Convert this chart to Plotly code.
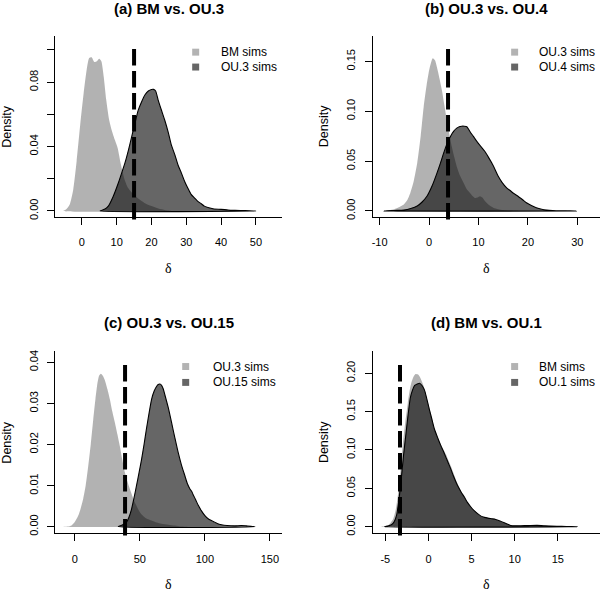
import plotly.graph_objects as go

W, H = 600, 593

# ---------------- data ----------------
titles = ["(a) BM vs. OU.3", "(b) OU.3 vs. OU.4", "(c) OU.3 vs. OU.15", "(d) BM vs. OU.1"]
light_names = ["BM sims", "OU.3 sims", "OU.3 sims", "BM sims"]
dark_names = ["OU.3 sims", "OU.4 sims", "OU.15 sims", "OU.1 sims"]
observed = [15.0, 3.84, 38.6, -3.3]

a_light_x = [-5.3, -4.5, -3.5, -2.5, -1.5, -0.5, 0.5, 1.4, 2.1, 2.8, 3.6, 4.3, 5.0, 5.6, 6.3, 7.0, 7.8, 8.6, 9.5,
             10.3, 11.2, 12.2, 13.2, 14.5, 16, 18, 20, 22, 24, 26]
a_light_y = [0, 0.001, 0.004, 0.013, 0.031, 0.053, 0.073, 0.088, 0.095, 0.0955, 0.0925, 0.093, 0.0945, 0.093, 0.083,
             0.069, 0.057, 0.050, 0.044, 0.039, 0.029, 0.020, 0.0145, 0.011, 0.008, 0.005, 0.003, 0.0015, 0.0005, 0]
a_dark_x = [5.2, 6.5, 7.6, 9, 10.5, 11.5, 12.4, 13.4, 14.3, 15.3, 16.2, 17.2, 18.1, 19.1, 20, 20.6, 21.2, 21.9, 22.8,
            23.8, 24.8, 25.7, 26.7, 27.6, 28.6, 29.5, 30.5, 31.4, 32.4, 33.3, 34.3, 35.2, 36.5, 38, 40, 42, 44, 47, 50]
a_dark_y = [0, 0.001, 0.003, 0.009, 0.0175, 0.024, 0.030, 0.038, 0.046, 0.055, 0.0626, 0.068, 0.072, 0.0745, 0.0754,
            0.0755, 0.0745, 0.069, 0.063, 0.0565, 0.049, 0.041, 0.035, 0.0287, 0.0235, 0.0185, 0.014, 0.0103, 0.008,
            0.006, 0.0045, 0.003, 0.002, 0.0012, 0.001, 0.0006, 0.0004, 0.0002, 0]

b_light_x = [-9.1, -7.1, -6, -5.1, -4.4, -3.8, -3.1, -2.4, -1.7, -1.1, -0.5, 0.1, 0.74, 1.2, 1.6, 2.1, 2.6, 3.1, 3.6,
             4.1, 4.6, 5.1, 5.6, 6.3, 7, 7.6, 8.3, 8.8, 9.3, 9.8, 10.3, 10.8, 11.3, 12, 13, 14, 15, 16.5, 18]
b_light_y = [0, 0.0017, 0.004, 0.0066, 0.011, 0.018, 0.030, 0.048, 0.075, 0.104, 0.126, 0.143, 0.153, 0.151, 0.144,
             0.133, 0.121, 0.106, 0.091, 0.077, 0.0646, 0.054, 0.0447, 0.035, 0.028, 0.022, 0.018, 0.015, 0.013,
             0.0135, 0.0148, 0.0135, 0.010, 0.0065, 0.0033, 0.0018, 0.001, 0.0004, 0]
b_dark_x = [-9.1, -7, -5.1, -3.7, -2.4, -1.4, -0.4, 0.6, 1.6, 2.3, 2.95, 3.6, 4.3, 5, 5.6, 6.1, 6.6, 7.1, 7.65, 8.3,
            9, 9.7, 10.5, 11.3, 12, 12.7, 13.4, 14, 14.8, 15.7, 16.4, 17, 17.7, 18.4, 19, 19.7, 20.7, 21.7, 22.8,
            23.8, 25, 26.4, 28, 29.8]
b_dark_y = [0, 0.0005, 0.001, 0.0025, 0.005, 0.009, 0.015, 0.025, 0.038, 0.048, 0.058, 0.067, 0.0745, 0.080, 0.083,
            0.0845, 0.085, 0.085, 0.0845, 0.0795, 0.0745, 0.0695, 0.0645, 0.0596, 0.054, 0.048, 0.041, 0.0348,
            0.0285, 0.0232, 0.0205, 0.018, 0.0157, 0.0132, 0.011, 0.0083, 0.0055, 0.0033, 0.0018, 0.001, 0.0005,
            0.0002, 0.0001, 0]

c_light_x = [-9, -5, -2.6, 0, 2.6, 4.5, 6.4, 8.3, 10.3, 12.2, 14.1, 15.8, 17.4, 18.7, 20, 21.5, 23, 25, 26.9, 28.8,
             30.8, 32.7, 34.6, 36.5, 38.5, 40.4, 42.3, 44.2, 46, 48.5, 51, 55, 59, 63, 66.7, 72, 77, 82, 87]
c_light_y = [0, 0.0001, 0.0003, 0.0012, 0.0027, 0.0045, 0.0068, 0.010, 0.0148, 0.020, 0.026, 0.031, 0.035, 0.0368,
             0.0372, 0.0367, 0.0357, 0.0335, 0.031, 0.028, 0.0253, 0.0225, 0.0196, 0.0163, 0.0132, 0.011, 0.0092,
             0.0075, 0.006, 0.0044, 0.0031, 0.002, 0.0015, 0.001, 0.0007, 0.0005, 0.0003, 0.0001, 0]
c_dark_x = [33.3, 36.5, 39.7, 41.6, 43.6, 45.5, 47.4, 49.4, 51.3, 53.2, 55, 57, 59, 61, 62.8, 64.1, 65.4, 66.7, 68,
            69.2, 71.8, 74.4, 77, 79.5, 82, 84.6, 86.5, 88.5, 90, 91, 93, 94.9, 97.5, 100, 103, 106.4, 109.5, 112.8,
            117, 123, 128, 132, 138.5]
c_dark_y = [0, 0.0004, 0.0011, 0.0023, 0.0043, 0.007, 0.010, 0.0132, 0.0164, 0.020, 0.0237, 0.0275, 0.031, 0.033,
            0.0341, 0.0346, 0.0347, 0.0344, 0.0335, 0.0321, 0.029, 0.0253, 0.0215, 0.018, 0.015, 0.0124, 0.0105,
            0.0092, 0.0085, 0.0078, 0.0065, 0.0052, 0.0038, 0.0027, 0.0018, 0.0013, 0.0008, 0.0005, 0.0003, 0.0002,
            0.0003, 0.0002, 0]

d_light_x = [-5.5, -5.1, -4.7, -4.4, -4.1, -3.8, -3.5, -3.25, -3.0, -2.7, -2.4, -2.2, -2.0, -1.75, -1.5, -1.25, -1.04,
             -0.75, -0.46, -0.2, 0.1, 0.4, 0.7, 1.1, 1.46, 1.75, 2.04, 2.3, 2.6, 2.9, 3.2, 3.5, 3.8, 4.2, 4.5, 4.9,
             5.3, 5.7, 6.1, 6.5, 6.9, 7.4, 7.8, 8.3, 8.8, 9.2, 9.55, 10.1, 10.7, 11.6, 12.6, 13.7, 14.9, 16, 17]
d_light_y = [0, 0.0008, 0.002, 0.005, 0.010, 0.022, 0.045, 0.072, 0.105, 0.135, 0.161, 0.176, 0.187, 0.195, 0.199,
             0.1985, 0.196, 0.189, 0.180, 0.168, 0.155, 0.141, 0.128, 0.116, 0.107, 0.100, 0.094, 0.087, 0.079,
             0.070, 0.061, 0.053, 0.046, 0.038, 0.032, 0.026, 0.021, 0.017, 0.014, 0.0122, 0.011, 0.010, 0.009,
             0.007, 0.005, 0.0032, 0.002, 0.0015, 0.0012, 0.0013, 0.0015, 0.0011, 0.0007, 0.0003, 0]
d_dark_x = [-5.1, -4.7, -4.3, -4.0, -3.7, -3.45, -3.16, -2.9, -2.6, -2.35, -2.1, -1.85, -1.6, -1.3, -1.04, -0.75,
            -0.46, -0.2, 0.1, 0.4, 0.7, 1.1, 1.46, 1.75, 2.04, 2.3, 2.6, 2.9, 3.2, 3.5, 3.8, 4.2, 4.5, 4.9, 5.3, 5.7,
            6.1, 6.5, 6.9, 7.4, 7.8, 8.3, 8.8, 9.2, 9.55, 10.1, 10.7, 11.6, 12.6, 13.4, 14.9, 16, 17.3]
d_dark_y = [0, 0.001, 0.0026, 0.006, 0.0147, 0.033, 0.062, 0.092, 0.122, 0.147, 0.168, 0.178, 0.184, 0.186, 0.187,
            0.184, 0.178, 0.167, 0.153, 0.140, 0.127, 0.115, 0.105, 0.098, 0.090, 0.083, 0.075, 0.066, 0.058, 0.051,
            0.045, 0.038, 0.032, 0.026, 0.021, 0.017, 0.0138, 0.0122, 0.0112, 0.0103, 0.0095, 0.0075, 0.0052,
            0.0033, 0.0017, 0.0013, 0.0013, 0.0015, 0.0017, 0.0012, 0.0007, 0.0003, 0]

x_ticks = [[0, 10, 20, 30, 40, 50], [-10, 0, 10, 20, 30], [0, 50, 100, 150], [-5, 0, 5, 10, 15]]
y_ticks = [[0, 0.02, 0.04, 0.06, 0.08, 0.10], [0, 0.05, 0.10, 0.15],
           [0, 0.01, 0.02, 0.03, 0.04], [0, 0.05, 0.10, 0.15, 0.20]]
y_tick_labels = [["0.00", "", "0.04", "", "0.08", ""], ["0.00", "0.05", "0.10", "0.15"],
                 ["0.00", "0.01", "0.02", "0.03", "0.04"], ["0.00", "0.05", "0.10", "0.15", "0.20"]]
x_ranges = [[-7.66, 57.57], [-11.41, 34.59], [-15.13, 159.5], [-6.47, 19.9]]
y_ranges = [[-0.0039, 0.1088], [-0.00626, 0.17565], [-0.00162, 0.04266], [-0.00867, 0.2285]]

light_x = [a_light_x, b_light_x, c_light_x, d_light_x]
light_y = [a_light_y, b_light_y, c_light_y, d_light_y]
dark_x = [a_dark_x, b_dark_x, c_dark_x, d_dark_x]
dark_y = [a_dark_y, b_dark_y, c_dark_y, d_dark_y]

# ---------------- layout geometry (pixels) ----------------
LIGHT_FILL = "rgba(0,0,0,0.30)"
DARK_FILL = "rgba(0,0,0,0.60)"
LIGHT_KEY = "#b3b3b3"
DARK_KEY = "#666666"
SANS = "Liberation Sans, Arial, Helvetica, sans-serif"
SERIF = "Liberation Serif, Times New Roman, serif"

panel_px = [  # left, right, top, bottom
    (54.3, 281.7, 35.0, 217.7),
    (372.3, 600.0, 35.0, 217.7),
    (54.3, 281.7, 352.7, 536.0),
    (372.3, 600.0, 352.7, 536.0),
]
title_y = [8, 8, 324, 324]
xlab_y = [269, 269, 587, 587]
legend_rows = [(51.5, 66.5), (51.5, 66.5), (368, 384), (368, 384)]
legend_sq_x = [195, 514.5, 185, 514.5]
legend_txt_x = [218.8, 536.5, 210.8, 536.5]


def px(x):
    return x / W


def py(y):
    return 1 - y / H


fig = go.Figure()
annotations = []
shapes = []

for i in range(4):
    k = "" if i == 0 else str(i + 1)
    xa, ya = "x" + k, "y" + k
    L, R, T, B = panel_px[i]

    lx = light_x[i] + [light_x[i][0]]
    ly = light_y[i] + [light_y[i][0]]
    dx = dark_x[i] + [dark_x[i][0]]
    dy = dark_y[i] + [dark_y[i][0]]
    fig.add_trace(go.Scatter(x=lx, y=ly, xaxis=xa, yaxis=ya, mode="lines", fill="toself",
                             fillcolor=LIGHT_FILL, line=dict(width=0, shape="spline", smoothing=0.6),
                             name=light_names[i], showlegend=False, hoverinfo="skip"))
    fig.add_trace(go.Scatter(x=dx, y=dy, xaxis=xa, yaxis=ya, mode="lines", fill="toself",
                             fillcolor=DARK_FILL, line=dict(width=1.1, color="black", shape="spline", smoothing=0.6),
                             name=dark_names[i], showlegend=False, hoverinfo="skip"))

    axis_common = dict(showline=True, linecolor="black", linewidth=1, ticks="outside", ticklen=7,
                       tickcolor="black", tickwidth=1, showgrid=False, zeroline=False,
                       tickfont=dict(family=SANS, size=11, color="black"))
    fig.layout["xaxis" + k] = dict(domain=[px(L), px(R)], range=x_ranges[i], anchor=ya,
                                   tickvals=x_ticks[i], ticktext=[str(v) for v in x_ticks[i]],
                                   ticklabelstandoff=8, **axis_common)
    fig.layout["yaxis" + k] = dict(domain=[py(B), py(T)], range=y_ranges[i], anchor=xa,
                                   tickvals=y_ticks[i], ticktext=y_tick_labels[i], tickangle=-90,
                                   ticklabelstandoff=5, **axis_common)

    # observed value: dashed vertical line
    shapes.append(dict(type="line", xref=xa, yref=ya + " domain", x0=observed[i], x1=observed[i],
                       y0=-0.012, y1=0.945, line=dict(color="black", width=4, dash="16.5px,5.5px"),
                       layer="above"))

    # titles and axis labels
    cx = (L + R) / 2
    annotations.append(dict(text="<b>" + titles[i] + "</b>", x=px(cx), y=py(title_y[i]), xref="paper",
                            yref="paper", showarrow=False, xanchor="center", yanchor="middle",
                            font=dict(family=SANS, size=15, color="black")))
    annotations.append(dict(text="δ", x=px(cx), y=py(xlab_y[i]), xref="paper", yref="paper",
                            showarrow=False, xanchor="center", yanchor="middle",
                            font=dict(family=SERIF, size=14, color="black")))
    annotations.append(dict(text="Density", x=px(L - 48), y=py((T + B) / 2), xref="paper", yref="paper",
                            showarrow=False, xanchor="center", yanchor="middle", textangle=-90,
                            font=dict(family=SANS, size=12.5, color="black")))

    # legend (squares + labels)
    for name, col, row_y in ((light_names[i], LIGHT_KEY, legend_rows[i][0]),
                             (dark_names[i], DARK_KEY, legend_rows[i][1])):
        sx = legend_sq_x[i]
        shapes.append(dict(type="rect", xref="paper", yref="paper", x0=px(sx - 3.5), x1=px(sx + 3.5),
                           y0=py(row_y + 3.5), y1=py(row_y - 3.5), fillcolor=col, line=dict(width=0)))
        annotations.append(dict(text=name, x=px(legend_txt_x[i]), y=py(row_y), xref="paper", yref="paper",
                                showarrow=False, xanchor="left", yanchor="middle",
                                font=dict(family=SANS, size=12, color="black")))

fig.update_layout(width=W, height=H, margin=dict(l=0, r=0, t=0, b=0), paper_bgcolor="white",
                  plot_bgcolor="white", showlegend=False, annotations=annotations, shapes=shapes)

fig.write_html("out.html", config={"displayModeBar": False},
               post_script="document.body.style.margin='0px';document.body.style.padding='0px';")
